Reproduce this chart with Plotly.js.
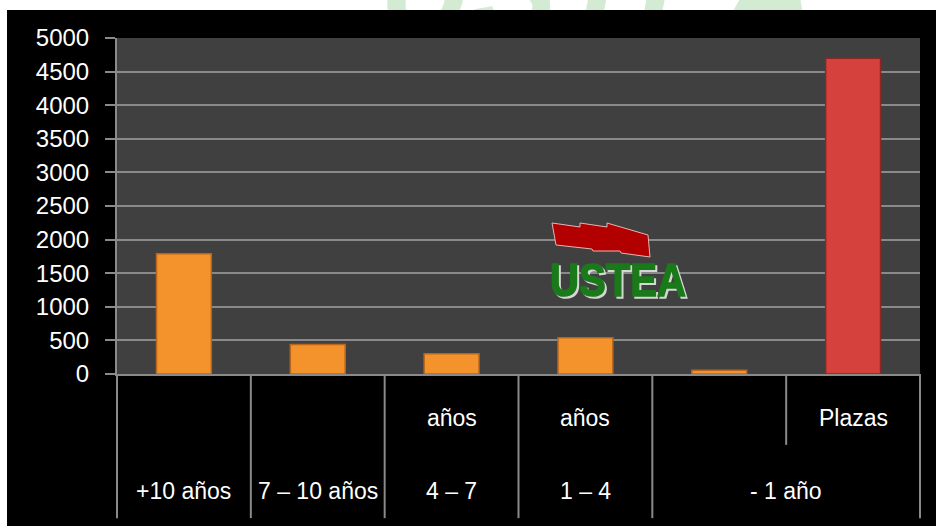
<!DOCTYPE html>
<html>
<head>
<meta charset="utf-8">
<script src="https://cdn.plot.ly/plotly-3.0.1.min.js"></script>
<style>
  html, body { margin: 0; padding: 0; background: #ffffff; width: 936px; height: 526px; overflow: hidden; position: relative; }
  #wm { position: absolute; left: 380px; top: -84px; font-family: "Liberation Sans", Arial, sans-serif; font-weight: bold; font-style: italic;
        font-size: 126px; color: #d3ebd3; letter-spacing: 2px; z-index: 0; white-space: nowrap; }
  #chart { position: absolute; left: 7px; top: 10px; width: 929px; height: 516px; z-index: 1; }
  #logo { position: absolute; left: 0; top: 0; width: 936px; height: 526px; z-index: 2; pointer-events: none; }
</style>
</head>
<body>
<div id="wm">USTEA</div>
<div id="chart"></div>
<svg id="logo" width="936" height="526" xmlns="http://www.w3.org/2000/svg">
  <polygon points="552,223 580,227 580,223 607,227 607,223 648,235 650,257 621,253 620,251 593,251 592,249 556,245" fill="#b20000" stroke="#e6b4b4" stroke-width="1"/>
  <text x="550" y="296" font-family="Liberation Sans Narrow, Liberation Sans, Arial" font-weight="bold" font-size="47" fill="#1a7a1a"
        stroke="#1a7a1a" stroke-width="1.5" textLength="136" lengthAdjust="spacingAndGlyphs"
        style="filter: drop-shadow(2px 2px 0 #d6d6d6);">USTEA</text>
</svg>
<script>
// ---- data ----
const categories = ["+10 años", "7 – 10 años", "4 – 7 años", "1 – 4 años", "- 1 año", "Plazas"];
const values = [1790, 440, 300, 540, 55, 4700];
const barColors = ["#f4922b", "#f4922b", "#f4922b", "#f4922b", "#f4922b", "#d5423e"];
const barEdges = ["#b9661c", "#b9661c", "#b9661c", "#b9661c", "#b9661c", "#8e2624"];
const topRowLabels = ["", "", "años", "años", "", "Plazas"];
const bottomRowLabels = ["+10 años", "7 – 10 años", "4 – 7", "1 – 4", "- 1 año"];
const bottomRowSpans = [1, 1, 1, 1, 2];
const yTicks = [0, 500, 1000, 1500, 2000, 2500, 3000, 3500, 4000, 4500, 5000];
// ----------------

const n = categories.length;
const FONT = "Liberation Sans, Arial, sans-serif";
const GRID = "#8a8a8a";

const annotations = [];
topRowLabels.forEach((t, i) => {
  if (!t) return;
  annotations.push({ x: i, xref: "x", y: -0.131, yref: "paper", text: t, showarrow: false,
    xanchor: "center", yanchor: "middle", font: { family: FONT, size: 23, color: "#ffffff" } });
});
let pos = 0;
bottomRowLabels.forEach((t, k) => {
  const span = bottomRowSpans[k];
  const center = pos + (span - 1) / 2;
  annotations.push({ x: center, xref: "x", y: -0.348, yref: "paper", text: t, showarrow: false,
    xanchor: "center", yanchor: "middle", font: { family: FONT, size: 23, color: "#ffffff" } });
  pos += span;
});

// dividers: full at group boundaries, short at inner boundaries
const shapes = [];
const groupBounds = [0];
bottomRowSpans.reduce((acc, s) => { groupBounds.push(acc + s); return acc + s; }, 0);
for (let i = 0; i <= n; i++) {
  const full = groupBounds.includes(i);
  shapes.push({ type: "line", xref: "paper", yref: "paper", x0: i / n, x1: i / n, y0: 0, y1: full ? -0.429 : -0.211,
    line: { color: GRID, width: 2 } });
}

const trace = {
  type: "bar",
  x: categories,
  y: values,
  width: 0.41,
  marker: { color: barColors, line: { color: barEdges, width: 1.5 } },
  hoverinfo: "x+y"
};

const layout = {
  width: 929, height: 516,
  margin: { l: 110, r: 16, t: 28, b: 152 },
  paper_bgcolor: "#000000",
  plot_bgcolor: "#404040",
  showlegend: false,
  font: { family: FONT, color: "#ffffff" },
  xaxis: {
    type: "category",
    showticklabels: false,
    ticks: "",
    showgrid: false,
    showline: true, linecolor: GRID, linewidth: 2,
    zeroline: false
  },
  yaxis: {
    range: [0, 5000],
    tickvals: yTicks,
    ticktext: yTicks.map(String),
    ticks: "outside", ticklen: 10, tickwidth: 2, tickcolor: GRID,
    ticklabelstandoff: 11,
    tickfont: { family: FONT, size: 24, color: "#ffffff" },
    showgrid: true, gridcolor: GRID, gridwidth: 2,
    showline: true, linecolor: GRID, linewidth: 2,
    zeroline: false
  },
  annotations: annotations,
  shapes: shapes,
  bargap: 0.59
};

Plotly.newPlot("chart", [trace], layout, { displayModeBar: false, staticPlot: true });
</script>
</body>
</html>
